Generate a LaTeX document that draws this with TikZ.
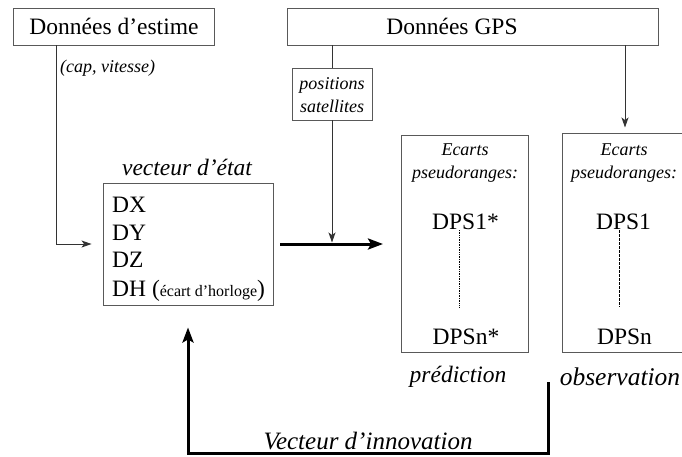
\documentclass[tikz,border=0pt]{standalone}
\usepackage{fontspec}
\setmainfont{Liberation Serif}
\usetikzlibrary{arrows.meta}
\begin{document}
\begin{tikzpicture}[x=1pt,y=-1pt,
  box/.style={draw=black!65, line width=0.9pt, inner sep=0pt},
  conn/.style={draw=black!80, line width=1pt},
  connarrow/.style={conn, -{Stealth[length=10pt,width=7pt,inset=2.5pt]}},
  fatarrow/.style={draw=black, line width=3pt, -{Stealth[length=15pt,width=11pt,inset=3pt]}},
  big/.style={font=\fontsize{23.5}{26}\selectfont},
  bigit/.style={font=\fontsize{23.5}{26}\selectfont\itshape},
  smallit/.style={font=\fontsize{18}{22.5}\selectfont\itshape, align=center},
  txt/.style={inner sep=0pt}
]
\useasboundingbox (0,0) rectangle (682,456);
\clip (0,0) rectangle (682,456);

% top boxes
\node[box, minimum width=201pt, minimum height=37pt] (est) at (113.5,26.5) {};
\node[txt, big] (estt) at (114,26.5) {Données d’estime};
\node[box, minimum width=371pt, minimum height=37pt] (gps) at (472.5,26.5) {};
\node[txt, big] (gpst) at (452,26.5) {Données GPS};

% positions satellites
\node[box, minimum width=80pt, minimum height=52pt] (pos) at (332,94) {};
\node[txt, smallit] (post) at (332,95) {positions\\satellites};

% state vector
\node[txt, bigit] (svl) at (187,167) {vecteur d’état};
\node[box, minimum width=170pt, minimum height=122pt] (state) at (188,244) {};
\node[txt, big, anchor=base west] (dx) at (112,212) {DX};
\node[txt, big, anchor=base west] (dy) at (112,240) {DY};
\node[txt, big, anchor=base west] (dz) at (112,267) {DZ};
\node[txt, big, anchor=base west] (dh) at (112,296) {DH (\fontsize{16}{18}\selectfont écart d’horloge\fontsize{23.5}{26}\selectfont)};

% prediction box
\node[box, minimum width=127pt, minimum height=217pt] (pred) at (464.5,243.5) {};
\node[txt, smallit] (pe) at (465,163) {Ecarts\\pseudoranges:};
\node[txt, big] (p1) at (465.5,222) {DPS1*};
\node[txt, big] (pn) at (466,337) {DPSn*};
\coordinate (pd1) at (459,230);
\coordinate (pd2) at (459,307);
\draw[black, line width=0.7pt, dash pattern=on 0.8pt off 0.9pt] (pd1) -- (pd2);
\node[txt, bigit] (predl) at (458,377) {prédiction};

% observation box (cut at the right edge)
\node[box, minimum width=160pt, minimum height=219pt] (obs) at (642,242.5) {};
\node[txt, smallit] (oe) at (624,163) {Ecarts\\pseudoranges:};
\node[txt, big] (o1) at (623.5,222) {DPS1};
\node[txt, big] (on) at (624.5,337) {DPSn};
\coordinate (od1) at (619,230);
\coordinate (od2) at (619,307);
\draw[black, line width=0.7pt, dash pattern=on 2.5pt off 1.5pt] (od1) -- (od2);
\node[txt, font=\fontsize{25.5}{28}\selectfont\itshape] (obsl) at (620,377) {observation};

% connectors
\coordinate (estx) at (56,45);
\draw[connarrow] (estx) |- ([xshift=-11pt]state.west);
\node[txt, font=\fontsize{18}{22}\selectfont\itshape, anchor=west] (capv) at (60,68) {(cap, vitesse)};

\draw[conn] (gps.south -| pos.north) -- (pos.north);
\coordinate (junc) at (332,242.5);
\draw[connarrow] (pos.south) -- (junc);

\coordinate (gpsr) at (625,45);
\coordinate (obsin) at (625,127.5);
\draw[connarrow] (gpsr) -- (obsin);

\coordinate (sa) at (280,244);
\coordinate (sb) at (383,244);
\draw[fatarrow] (sa) -- (sb);

% feedback
\coordinate (fb1) at (548,382);
\coordinate (fb2) at (548,453);
\draw[fatarrow, line join=miter] (fb1) -- (fb2) -| ([yshift=-22pt]state.south);
\node[txt, font=\fontsize{25}{28}\selectfont\itshape] (innov) at (368,441) {Vecteur d’innovation};
\end{tikzpicture}
\end{document}
